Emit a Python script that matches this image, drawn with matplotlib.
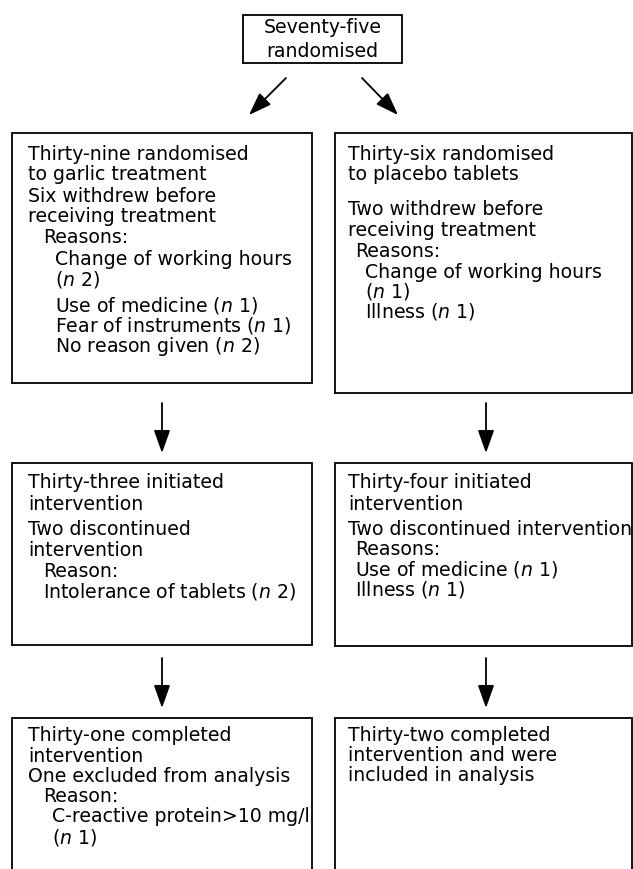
import matplotlib
matplotlib.use("Agg")
import matplotlib.pyplot as plt
from matplotlib.patches import FancyArrowPatch, ArrowStyle
from matplotlib.lines import Line2D

plt.rcParams['font.family'] = ['DejaVu Sans']
plt.rcParams['mathtext.fontset'] = 'custom'
plt.rcParams['mathtext.rm'] = 'DejaVu Sans'
plt.rcParams['mathtext.it'] = 'DejaVu Sans:italic'

N = r'$\mathit{n}$'

# ---- text content of each box ----
top_lines = ["Seventy-five", "randomised"]

garlic_randomised = [
    "Thirty-nine randomised", "to garlic treatment",
    "Six withdrew before", "receiving treatment",
    "Reasons:", "Change of working hours", f"({N} 2)",
    f"Use of medicine ({N} 1)", f"Fear of instruments ({N} 1)",
    f"No reason given ({N} 2)",
]
placebo_randomised = [
    "Thirty-six randomised", "to placebo tablets",
    "Two withdrew before", "receiving treatment",
    "Reasons:", "Change of working hours", f"({N} 1)", f"Illness ({N} 1)",
]
garlic_initiated = [
    "Thirty-three initiated", "intervention",
    "Two discontinued", "intervention",
    "Reason:", f"Intolerance of tablets ({N} 2)",
]
placebo_initiated = [
    "Thirty-four initiated", "intervention",
    "Two discontinued intervention",
    "Reasons:", f"Use of medicine ({N} 1)", f"Illness ({N} 1)",
]
garlic_completed = [
    "Thirty-one completed", "intervention",
    "One excluded from analysis",
    "Reason:", "C-reactive protein>10 mg/l", f"({N} 1)",
]
placebo_completed = [
    "Thirty-two completed", "intervention and were",
    "included in analysis",
]

# ---- layout (pixels, y downward) ----
W, H = 633, 869
fig = plt.figure(figsize=(W / 100, H / 100), dpi=100)
ax = fig.add_axes([0, 0, 1, 1])
ax.set_xlim(0, W)
ax.set_ylim(H, 0)
ax.axis('off')

LW = 1.3
FS = 13.6


def box(x0, y0, x1, y1, closed=True):
    xs = [x0, x0, x1, x1]
    ys = [y1, y0, y0, y1]
    if closed:
        xs.append(x0)
        ys.append(y1)
    ax.add_line(Line2D(xs, ys, color='black', lw=LW, solid_joinstyle='miter'))


def lines(x, texts, xoffs, ys):
    for t, dx, y in zip(texts, xoffs, ys):
        ax.text(x + dx, y, t, fontsize=FS, ha='left', va='baseline', color='black')


def arrow(p0, p1):
    st = ArrowStyle('-|>', head_length=1.4, head_width=0.5)
    ax.add_patch(FancyArrowPatch(p0, p1, arrowstyle=st, mutation_scale=10,
                                 color='black', lw=LW, shrinkA=0, shrinkB=0))


# top box
box(243, 15, 402, 63)
for t, y in zip(top_lines, [33, 57]):
    ax.text(322.5, y, t, fontsize=FS, ha='center', va='baseline')
arrow((286, 78), (249, 115))
arrow((362, 78), (398, 115))

# row 1
box(12, 133, 312, 383)
lines(28, garlic_randomised, [0, 0, 0, 0, 15, 27, 27, 27, 27, 27],
      [160, 180, 202, 222, 243, 265, 285, 312, 332, 352])
box(335, 133, 632, 393)
lines(348, placebo_randomised, [0, 0, 0, 0, 7, 17, 17, 17],
      [160, 180, 215, 236, 257, 278, 298, 317])
arrow((162, 403), (162, 453))
arrow((486, 403), (486, 453))

# row 2
box(12, 463, 312, 645)
lines(28, garlic_initiated, [0, 0, 0, 0, 15, 15],
      [488, 510, 535, 556, 577, 597])
box(335, 463, 632, 646)
lines(348, placebo_initiated, [0, 0, 0, 7, 7, 7],
      [488, 510, 535, 555, 575, 595])
arrow((162, 658), (162, 708))
arrow((486, 658), (486, 708))

# row 3 (open at bottom)
box(12, 718, 312, H + 5, closed=False)
lines(28, garlic_completed, [0, 0, 0, 15, 24, 24],
      [741, 762, 782, 802, 822, 843])
box(335, 718, 632, H + 5, closed=False)
lines(348, placebo_completed, [0, 0, 0], [741, 761, 781])

fig.savefig('out.png', dpi=100)
